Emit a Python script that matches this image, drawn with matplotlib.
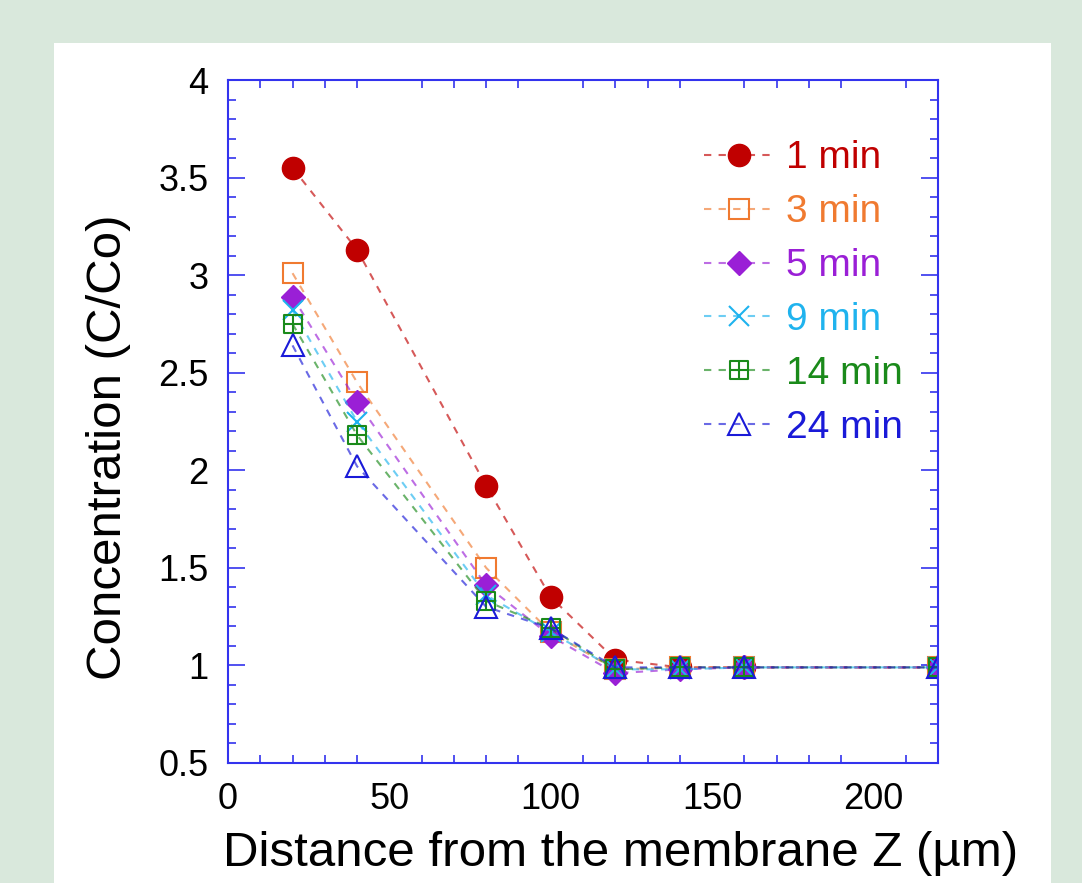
import matplotlib
matplotlib.use("Agg")
import matplotlib.pyplot as plt
from matplotlib.path import Path
from matplotlib.patches import Rectangle
from matplotlib.ticker import MultipleLocator, FixedLocator
from matplotlib.colors import to_rgba

plt.rcParams['font.family'] = ['Liberation Sans', 'DejaVu Sans']

# Data
distance = [20, 40, 80, 100, 120, 140, 160, 220]
labels = ["1 min", "3 min", "5 min", "9 min", "14 min", "24 min"]
c1 = [3.55, 3.13, 1.92, 1.35, 1.03, 0.99, 0.99, 0.99]
c3 = [3.01, 2.45, 1.50, 1.17, 0.98, 0.99, 0.99, 0.99]
c5 = [2.89, 2.35, 1.41, 1.15, 0.96, 0.98, 0.99, 0.99]
c9 = [2.82, 2.25, 1.36, 1.17, 0.98, 0.98, 0.99, 0.99]
c14 = [2.75, 2.18, 1.33, 1.19, 0.98, 0.99, 0.99, 0.99]
c24 = [2.64, 2.02, 1.30, 1.19, 0.99, 0.99, 0.99, 0.99]
series = [c1, c3, c5, c9, c14, c24]

colors = ["#c00000", "#f07a30", "#9a1fd6", "#1fb3ee", "#1a8a1a", "#1a1ad8"]

# custom "square with plus" marker
sqplus = Path(
    [(-1, -1), (1, -1), (1, 1), (-1, 1), (-1, -1),
     (0, -1), (0, 1), (-1, 0), (1, 0)],
    [Path.MOVETO, Path.LINETO, Path.LINETO, Path.LINETO, Path.CLOSEPOLY,
     Path.MOVETO, Path.LINETO, Path.MOVETO, Path.LINETO])

styles = [
    dict(marker='o', ms=16, mfc=colors[0], mec=colors[0]),
    dict(marker='s', ms=15, mfc='none', mec=colors[1], mew=1.5),
    dict(marker='D', ms=12, mfc=colors[2], mec=colors[2]),
    dict(marker='x', ms=14, mfc='none', mec=colors[3], mew=1.5),
    dict(marker=sqplus, ms=13, mfc='none', mec=colors[4], mew=1.5),
    dict(marker='^', ms=16, mfc='none', mec=colors[5], mew=1.5),
]

fig = plt.figure(figsize=(10.82, 8.83), dpi=100)
fig.patch.set_facecolor("#d9e8dc")
panel = Rectangle((54 / 1082, 0), (1051 - 54) / 1082, 1 - 43 / 883,
                  transform=fig.transFigure, facecolor='white',
                  edgecolor='none', zorder=-10)
fig.patches.append(panel)

ax = fig.add_axes([228 / 1082, 1 - 763 / 883, (938 - 228) / 1082, (763 - 80) / 883])
ax.set_zorder(5)
ax.set_facecolor('white')

handles = []
for ys, col, st, lab in zip(series, colors, styles, labels):
    h, = ax.plot(distance, ys, linestyle=(0, (3.5, 3.5)), color=to_rgba(col, 0.65),
                 lw=1.5, label=lab, **st)
    handles.append(h)

ax.set_xlim(0, 220)
ax.set_ylim(0.5, 4)
ax.xaxis.set_major_locator(FixedLocator([0, 50, 100, 150, 200]))
ax.xaxis.set_minor_locator(FixedLocator([v for v in range(10, 220, 10) if v % 50 != 0]))
ax.yaxis.set_minor_locator(MultipleLocator(0.1))
ax.set_yticks([0.5, 1, 1.5, 2, 2.5, 3, 3.5, 4])
ax.set_yticklabels(['0.5', '1', '1.5', '2', '2.5', '3', '3.5', '4'])

spine_col = "#3333ee"
for s in ax.spines.values():
    s.set_color(spine_col)
    s.set_linewidth(1.5)

ax.tick_params(axis='x', which='major', length=0, pad=14, labelsize=26, top=True)
ax.tick_params(axis='x', which='minor', direction='in', length=6, width=1.2,
               color=spine_col, top=True)
ax.tick_params(axis='y', which='major', direction='in', length=12, width=1.2,
               color=spine_col, right=True, labelsize=26, pad=14)
ax.tick_params(axis='y', which='minor', direction='in', length=6, width=1.2,
               color=spine_col, right=True)

ax.set_xlabel("Distance from the membrane Z (\u00b5m)", fontsize=35.5)
ax.set_ylabel("Concentration (C/Co)", fontsize=35.5)
ax.xaxis.set_label_coords(0.553, -0.1)
ax.yaxis.set_label_coords(-0.137, 0.463)

leg = ax.legend(handles=handles, loc='upper left', bbox_to_anchor=(0.66, 0.923),
                frameon=False, fontsize=28, handlelength=1.8, numpoints=1,
                labelspacing=0.46, handletextpad=0.3, borderpad=0.2,
                borderaxespad=0)
for t, col in zip(leg.get_texts(), colors):
    t.set_color(col)

fig.savefig("out.png", dpi=100, facecolor=fig.get_facecolor())
